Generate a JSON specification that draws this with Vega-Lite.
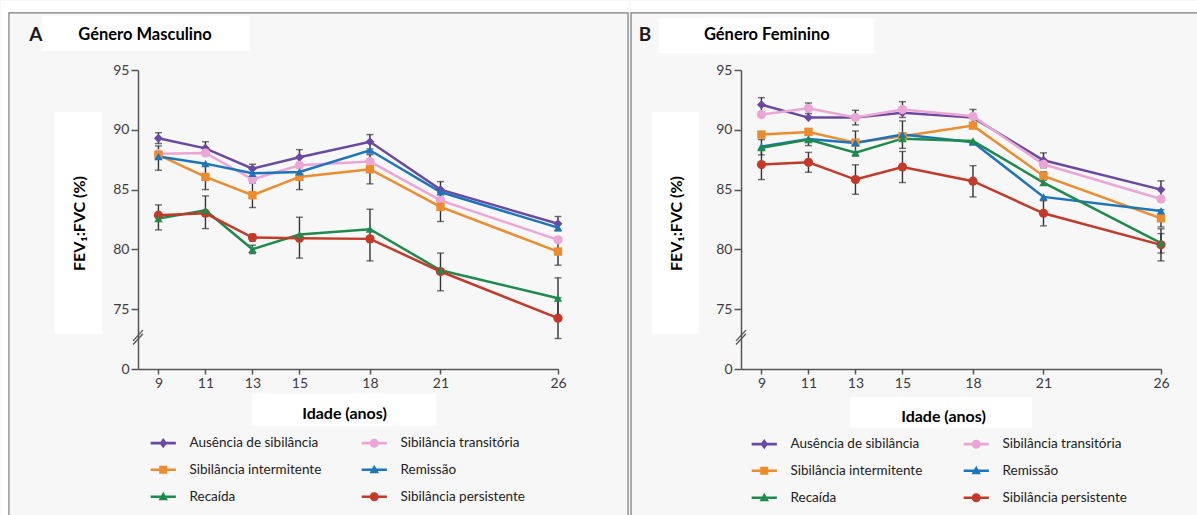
{
"$schema":"https://vega.github.io/schema/vega-lite/v6.json",
"background":"#f7f7f7",
"padding":0,
"spacing":1,
"config":{"view":{"stroke":null},"font":"Lato",
 "axis":{"domainColor":"#555","domainWidth":1.5,"tickColor":"#555","tickWidth":1.5,"labelFont":"Lato","labelFontSize":14,"labelColor":"#3b3a45","titleFont":"Lato","titleFontSize":16,"titleFontWeight":"bold","titleColor":"#000","grid":false,"labelOverlap":false}},
"resolve":{"scale":{"color":"independent","shape":"independent"}},
"datasets":{"d":[
{"p":"A","idade":9,"grupo":"Ausência de sibilância","v":89.3,"lo":88.85,"hi":89.76},
{"p":"A","idade":11,"grupo":"Ausência de sibilância","v":88.45,"lo":87.9,"hi":89.0},
{"p":"A","idade":13,"grupo":"Ausência de sibilância","v":86.75,"lo":86.38,"hi":87.12},
{"p":"A","idade":15,"grupo":"Ausência de sibilância","v":87.7,"lo":87.06,"hi":88.34},
{"p":"A","idade":18,"grupo":"Ausência de sibilância","v":89.0,"lo":88.4,"hi":89.6},
{"p":"A","idade":21,"grupo":"Ausência de sibilância","v":85.0,"lo":84.33,"hi":85.67},
{"p":"A","idade":26,"grupo":"Ausência de sibilância","v":82.15,"lo":81.55,"hi":82.75},
{"p":"A","idade":9,"grupo":"Sibilância transitória","v":88.0},
{"p":"A","idade":11,"grupo":"Sibilância transitória","v":88.06},
{"p":"A","idade":13,"grupo":"Sibilância transitória","v":85.86},
{"p":"A","idade":15,"grupo":"Sibilância transitória","v":87.03},
{"p":"A","idade":18,"grupo":"Sibilância transitória","v":87.34},
{"p":"A","idade":21,"grupo":"Sibilância transitória","v":84.1},
{"p":"A","idade":26,"grupo":"Sibilância transitória","v":80.8},
{"p":"A","idade":9,"grupo":"Sibilância intermitente","v":87.9,"lo":86.62,"hi":88.65},
{"p":"A","idade":11,"grupo":"Sibilância intermitente","v":86.06,"lo":85.0,"hi":87.1},
{"p":"A","idade":13,"grupo":"Sibilância intermitente","v":84.53,"lo":83.5,"hi":85.56},
{"p":"A","idade":15,"grupo":"Sibilância intermitente","v":86.06,"lo":85.0,"hi":87.1},
{"p":"A","idade":18,"grupo":"Sibilância intermitente","v":86.7,"lo":85.48,"hi":87.92},
{"p":"A","idade":21,"grupo":"Sibilância intermitente","v":83.55,"lo":82.33,"hi":84.77},
{"p":"A","idade":26,"grupo":"Sibilância intermitente","v":79.82,"lo":78.68,"hi":80.96},
{"p":"A","idade":9,"grupo":"Remissão","v":87.76},
{"p":"A","idade":11,"grupo":"Remissão","v":87.17},
{"p":"A","idade":13,"grupo":"Remissão","v":86.36},
{"p":"A","idade":15,"grupo":"Remissão","v":86.48},
{"p":"A","idade":18,"grupo":"Remissão","v":88.29},
{"p":"A","idade":21,"grupo":"Remissão","v":84.8},
{"p":"A","idade":26,"grupo":"Remissão","v":81.82},
{"p":"A","idade":9,"grupo":"Recaída","v":82.58},
{"p":"A","idade":11,"grupo":"Recaída","v":83.27},
{"p":"A","idade":13,"grupo":"Recaída","v":80.01,"lo":79.65,"hi":80.35},
{"p":"A","idade":15,"grupo":"Recaída","v":81.24},
{"p":"A","idade":18,"grupo":"Recaída","v":81.69},
{"p":"A","idade":21,"grupo":"Recaída","v":78.26},
{"p":"A","idade":26,"grupo":"Recaída","v":75.92,"lo":74.22,"hi":77.62},
{"p":"A","idade":9,"grupo":"Sibilância persistente","v":82.86,"lo":81.63,"hi":83.72},
{"p":"A","idade":11,"grupo":"Sibilância persistente","v":83.02,"lo":81.74,"hi":84.47},
{"p":"A","idade":13,"grupo":"Sibilância persistente","v":80.99,"lo":80.7,"hi":81.27},
{"p":"A","idade":15,"grupo":"Sibilância persistente","v":80.93,"lo":79.27,"hi":82.69},
{"p":"A","idade":18,"grupo":"Sibilância persistente","v":80.88,"lo":79.04,"hi":83.36},
{"p":"A","idade":21,"grupo":"Sibilância persistente","v":78.15,"lo":76.54,"hi":79.69},
{"p":"A","idade":26,"grupo":"Sibilância persistente","v":74.25,"lo":72.55,"hi":75.95},
{"p":"B","idade":9,"grupo":"Ausência de sibilância","v":92.1,"lo":91.5,"hi":92.69},
{"p":"B","idade":11,"grupo":"Ausência de sibilância","v":91.02},
{"p":"B","idade":13,"grupo":"Ausência de sibilância","v":91.02},
{"p":"B","idade":15,"grupo":"Ausência de sibilância","v":91.43},
{"p":"B","idade":18,"grupo":"Ausência de sibilância","v":91.02},
{"p":"B","idade":21,"grupo":"Ausência de sibilância","v":87.45,"lo":86.83,"hi":88.07},
{"p":"B","idade":26,"grupo":"Ausência de sibilância","v":85.0,"lo":84.27,"hi":85.73},
{"p":"B","idade":9,"grupo":"Sibilância transitória","v":91.27},
{"p":"B","idade":11,"grupo":"Sibilância transitória","v":91.8,"lo":91.36,"hi":92.24},
{"p":"B","idade":13,"grupo":"Sibilância transitória","v":91.02,"lo":90.41,"hi":91.63},
{"p":"B","idade":15,"grupo":"Sibilância transitória","v":91.69,"lo":91.03,"hi":92.35},
{"p":"B","idade":18,"grupo":"Sibilância transitória","v":91.13,"lo":90.56,"hi":91.7},
{"p":"B","idade":21,"grupo":"Sibilância transitória","v":87.12},
{"p":"B","idade":26,"grupo":"Sibilância transitória","v":84.22},
{"p":"B","idade":9,"grupo":"Sibilância intermitente","v":89.6},
{"p":"B","idade":11,"grupo":"Sibilância intermitente","v":89.82,"lo":89.54,"hi":90.1},
{"p":"B","idade":13,"grupo":"Sibilância intermitente","v":88.93,"lo":87.8,"hi":89.9},
{"p":"B","idade":15,"grupo":"Sibilância intermitente","v":89.46},
{"p":"B","idade":18,"grupo":"Sibilância intermitente","v":90.35},
{"p":"B","idade":21,"grupo":"Sibilância intermitente","v":86.14,"lo":85.8,"hi":86.48},
{"p":"B","idade":26,"grupo":"Sibilância intermitente","v":82.6,"lo":81.88,"hi":83.32},
{"p":"B","idade":9,"grupo":"Remissão","v":88.6,"lo":87.9,"hi":89.18},
{"p":"B","idade":11,"grupo":"Remissão","v":89.23,"lo":88.68,"hi":89.78},
{"p":"B","idade":13,"grupo":"Remissão","v":88.9},
{"p":"B","idade":15,"grupo":"Remissão","v":89.6,"lo":88.45,"hi":90.74},
{"p":"B","idade":18,"grupo":"Remissão","v":88.96},
{"p":"B","idade":21,"grupo":"Remissão","v":84.39},
{"p":"B","idade":26,"grupo":"Remissão","v":83.22},
{"p":"B","idade":9,"grupo":"Recaída","v":88.5},
{"p":"B","idade":11,"grupo":"Recaída","v":89.18},
{"p":"B","idade":13,"grupo":"Recaída","v":88.09},
{"p":"B","idade":15,"grupo":"Recaída","v":89.26},
{"p":"B","idade":18,"grupo":"Recaída","v":89.07},
{"p":"B","idade":21,"grupo":"Recaída","v":85.58},
{"p":"B","idade":26,"grupo":"Recaída","v":80.52,"lo":79.7,"hi":81.32},
{"p":"B","idade":9,"grupo":"Sibilância persistente","v":87.09,"lo":85.84,"hi":88.34},
{"p":"B","idade":11,"grupo":"Sibilância persistente","v":87.28,"lo":86.45,"hi":88.11},
{"p":"B","idade":13,"grupo":"Sibilância persistente","v":85.84,"lo":84.61,"hi":87.07},
{"p":"B","idade":15,"grupo":"Sibilância persistente","v":86.89,"lo":85.59,"hi":88.19},
{"p":"B","idade":18,"grupo":"Sibilância persistente","v":85.7,"lo":84.39,"hi":87.0},
{"p":"B","idade":21,"grupo":"Sibilância persistente","v":83.02,"lo":81.97,"hi":84.07},
{"p":"B","idade":26,"grupo":"Sibilância persistente","v":80.38,"lo":79.04,"hi":81.72}
]},
"hconcat":[
{"width":420,"height":299,
 "layer":[
  {"data":{"name":"d"},"transform":[{"filter":"datum.p == 'A'"}],
   "encoding":{
    "x":{"field":"idade","type":"quantitative","scale":{"domain":[8.13,26],"nice":false,"zero":false},
     "axis":{"zindex":1,"values":[9,11,13,15,18,21,26],"tickSize":5,"labelPadding":2,"labelFlush":false,"labelOverlap":false,"labelSeparation":-100,"labelBound":false,"title":"Idade (anos)","titleX":206,"titleY":44,"titleBaseline":"middle"}},
    "y":{"field":"v","type":"quantitative","scale":{"domain":[70,95],"nice":false,"zero":false},
     "axis":{"zindex":1,"values":[70,75,80,85,90,95],"labelExpr":"datum.value == 70 ? '0' : datum.label","tickSize":7,"labelPadding":2,"title":"FEV₁:FVC (%)","titleX":-59,"titleY":153,"titleBaseline":"middle","titleAngle":270}},
    "color":{"field":"grupo","type":"nominal","scale":{"domain":["Ausência de sibilância","Sibilância intermitente","Recaída","Sibilância transitória","Remissão","Sibilância persistente"],"range":["#6a4aa0","#eb8c2e","#1e8a4c","#eba6d6","#1c74bb","#c3392a"]},"legend":null}},
   "layer":[
    {"mark":{"type":"point","filled":true,"opacity":0},
     "encoding":{
      "color":{"field":"grupo","type":"nominal","scale":{"domain":["Ausência de sibilância","Sibilância intermitente","Recaída","Sibilância transitória","Remissão","Sibilância persistente"],"range":["#6a4aa0","#eb8c2e","#1e8a4c","#eba6d6","#1c74bb","#c3392a"]},
       "legend":{"orient":"none","legendX":18.5,"legendY":366,"columns":2,"title":null,"labelFont":"Lato","labelFontSize":13.5,"labelColor":"#222","symbolSize":81,"labelOffset":19.5,"columnPadding":40,"rowPadding":12,"symbolOpacity":1,"symbolStrokeWidth":0}},
      "shape":{"field":"grupo","type":"nominal","scale":{"domain":["Ausência de sibilância","Sibilância intermitente","Recaída","Sibilância transitória","Remissão","Sibilância persistente"],"range":["M-2.8,-0.28H2.8V0.28H-2.8Z M0,-1.15L0.85,0L0,1.15L-0.85,0Z","M-2.8,-0.28H2.8V0.28H-2.8Z M-0.9,-0.9H0.9V0.9H-0.9Z","M-2.8,-0.28H2.8V0.28H-2.8Z M0,-1.1L1.05,0.8H-1.05Z","M-2.8,-0.28H2.8V0.28H-2.8Z M1,0A1,1,0,1,1,-1,0A1,1,0,1,1,1,0Z","M-2.8,-0.28H2.8V0.28H-2.8Z M0,-1.1L1.05,0.8H-1.05Z","M-2.8,-0.28H2.8V0.28H-2.8Z M1,0A1,1,0,1,1,-1,0A1,1,0,1,1,1,0Z"]},
       "legend":{"orient":"none","legendX":18.5,"legendY":366,"columns":2,"title":null,"labelFont":"Lato","labelFontSize":13.5,"labelColor":"#222","symbolSize":81,"labelOffset":19.5,"columnPadding":40,"rowPadding":12,"symbolOpacity":1,"symbolStrokeWidth":0}}}},
    {"mark":{"type":"rule","strokeWidth":1.4},"encoding":{"y":{"field":"lo","type":"quantitative","scale":{"domain":[70,95],"nice":false,"zero":false}},"y2":{"field":"hi"},"color":{"value":"#333"}}},
    {"mark":{"type":"tick","orient":"horizontal","size":7,"thickness":1.4},"encoding":{"y":{"field":"lo","type":"quantitative","scale":{"domain":[70,95],"nice":false,"zero":false}},"color":{"value":"#333"}}},
    {"mark":{"type":"tick","orient":"horizontal","size":7,"thickness":1.4},"encoding":{"y":{"field":"hi","type":"quantitative","scale":{"domain":[70,95],"nice":false,"zero":false}},"color":{"value":"#333"}}},
    {"mark":{"type":"line","strokeWidth":2.5}},
    {"transform":[{"filter":"datum.grupo == 'Ausência de sibilância'"}],"mark":{"type":"point","shape":"diamond","filled":true,"size":80,"opacity":1}},
    {"transform":[{"filter":"datum.grupo == 'Sibilância transitória' || datum.grupo == 'Sibilância persistente'"}],"mark":{"type":"point","shape":"circle","filled":true,"size":85,"opacity":1}},
    {"transform":[{"filter":"datum.grupo == 'Sibilância intermitente'"}],"mark":{"type":"point","shape":"square","filled":true,"size":70,"opacity":1}},
    {"transform":[{"filter":"datum.grupo == 'Remissão' || datum.grupo == 'Recaída'"}],"mark":{"type":"point","shape":"triangle-up","filled":true,"size":70,"opacity":1}}
   ]},
  {"data":{"values":[{}]},"mark":{"type":"rect","fill":"white"},
   "encoding":{"x":{"datum":2.3,"type":"quantitative","scale":{"domain":[8.13,26],"nice":false,"zero":false}},"x2":{"datum":29.0},
    "y":{"datum":100.77,"type":"quantitative","scale":{"domain":[70,95],"nice":false,"zero":false}},"y2":{"datum":99.77}}},
  {"data":{"values":[{}]},"mark":{"type":"rect","fill":"white"},
   "encoding":{"x":{"datum":2.3,"type":"quantitative","scale":{"domain":[8.13,26],"nice":false,"zero":false}},"x2":{"datum":2.64},
    "y":{"datum":100.77,"type":"quantitative","scale":{"domain":[70,95],"nice":false,"zero":false}},"y2":{"datum":57}}},
  {"data":{"values":[{}]},"mark":{"type":"rect","fill":"transparent","stroke":"#7a7a7a","strokeWidth":1.2},
   "encoding":{"x":{"datum":2.64,"type":"quantitative","scale":{"domain":[8.13,26],"nice":false,"zero":false}},"x2":{"datum":28.98},
    "y":{"datum":99.77,"type":"quantitative","scale":{"domain":[70,95],"nice":false,"zero":false}},"y2":{"datum":57}}},
  {"data":{"values":[{}]},"mark":{"type":"rect","fill":"white"},
   "encoding":{"x":{"datum":4.04,"type":"quantitative","scale":{"domain":[8.13,26],"nice":false,"zero":false}},"x2":{"datum":12.9},
    "y":{"datum":99.51,"type":"quantitative","scale":{"domain":[70,95],"nice":false,"zero":false}},"y2":{"datum":96.59}}},
  {"data":{"values":[{}]},"mark":{"type":"rect","fill":"white"},
   "encoding":{"x":{"datum":4.55,"type":"quantitative","scale":{"domain":[8.13,26],"nice":false,"zero":false}},"x2":{"datum":6.6},
    "y":{"datum":91.49,"type":"quantitative","scale":{"domain":[70,95],"nice":false,"zero":false}},"y2":{"datum":72.94}}},
  {"data":{"values":[{}]},"mark":{"type":"rect","fill":"white"},
   "encoding":{"x":{"datum":12.98,"type":"quantitative","scale":{"domain":[8.13,26],"nice":false,"zero":false}},"x2":{"datum":20.82},
    "y":{"datum":67.91,"type":"quantitative","scale":{"domain":[70,95],"nice":false,"zero":false}},"y2":{"datum":65.23}}},
  {"data":{"values":[{}]},"mark":{"type":"text","text":"A","font":"Lato","fontSize":19,"fontWeight":"bold","align":"left","baseline":"middle","color":"#1a1a1a"},
   "encoding":{"x":{"datum":3.5,"type":"quantitative","scale":{"domain":[8.13,26],"nice":false,"zero":false}},
    "y":{"datum":97.95,"type":"quantitative","scale":{"domain":[70,95],"nice":false,"zero":false}}}},
  {"data":{"values":[{}]},"mark":{"type":"text","text":"Género Masculino","font":"Lato","fontSize":16.5,"fontWeight":"bold","align":"center","baseline":"middle","color":"#000"},
   "encoding":{"x":{"datum":8.43,"type":"quantitative","scale":{"domain":[8.13,26],"nice":false,"zero":false}},
    "y":{"datum":97.95,"type":"quantitative","scale":{"domain":[70,95],"nice":false,"zero":false}}}},
  {"data":{"values":[{}]},"mark":{"type":"rule","color":"#555","strokeWidth":1.3},
   "encoding":{"x":{"datum":7.92,"type":"quantitative","scale":{"domain":[8.13,26],"nice":false,"zero":false}},"x2":{"datum":8.34},
    "y":{"datum":72.35,"type":"quantitative","scale":{"domain":[70,95],"nice":false,"zero":false}},"y2":{"datum":73.25}}},
  {"data":{"values":[{}]},"mark":{"type":"rule","color":"#555","strokeWidth":1.3},
   "encoding":{"x":{"datum":7.92,"type":"quantitative","scale":{"domain":[8.13,26],"nice":false,"zero":false}},"x2":{"datum":8.34},
    "y":{"datum":72.05,"type":"quantitative","scale":{"domain":[70,95],"nice":false,"zero":false}},"y2":{"datum":72.95}}}
 ]},
{"width":420,"height":299,
 "layer":[
  {"data":{"name":"d"},"transform":[{"filter":"datum.p == 'B'"}],
   "encoding":{
    "x":{"field":"idade","type":"quantitative","scale":{"domain":[8.13,26],"nice":false,"zero":false},
     "axis":{"zindex":1,"values":[9,11,13,15,18,21,26],"tickSize":5,"labelPadding":2,"labelFlush":false,"labelOverlap":false,"labelSeparation":-100,"labelBound":false,"title":"Idade (anos)","titleX":202,"titleY":47,"titleBaseline":"middle"}},
    "y":{"field":"v","type":"quantitative","scale":{"domain":[70,95],"nice":false,"zero":false},
     "axis":{"zindex":1,"values":[70,75,80,85,90,95],"labelExpr":"datum.value == 70 ? '0' : datum.label","tickSize":7,"labelPadding":2,"title":"FEV₁:FVC (%)","titleX":-65,"titleY":153,"titleBaseline":"middle","titleAngle":270}},
    "color":{"field":"grupo","type":"nominal","scale":{"domain":["Ausência de sibilância","Sibilância intermitente","Recaída","Sibilância transitória","Remissão","Sibilância persistente"],"range":["#6a4aa0","#eb8c2e","#1e8a4c","#eba6d6","#1c74bb","#c3392a"]},"legend":null}},
   "layer":[
    {"mark":{"type":"point","filled":true,"opacity":0},
     "encoding":{
      "color":{"field":"grupo","type":"nominal","scale":{"domain":["Ausência de sibilância","Sibilância intermitente","Recaída","Sibilância transitória","Remissão","Sibilância persistente"],"range":["#6a4aa0","#eb8c2e","#1e8a4c","#eba6d6","#1c74bb","#c3392a"]},
       "legend":{"orient":"none","legendX":16.5,"legendY":367,"columns":2,"title":null,"labelFont":"Lato","labelFontSize":13.5,"labelColor":"#222","symbolSize":81,"labelOffset":19.5,"columnPadding":41,"rowPadding":12,"symbolOpacity":1,"symbolStrokeWidth":0}},
      "shape":{"field":"grupo","type":"nominal","scale":{"domain":["Ausência de sibilância","Sibilância intermitente","Recaída","Sibilância transitória","Remissão","Sibilância persistente"],"range":["M-2.8,-0.28H2.8V0.28H-2.8Z M0,-1.15L0.85,0L0,1.15L-0.85,0Z","M-2.8,-0.28H2.8V0.28H-2.8Z M-0.9,-0.9H0.9V0.9H-0.9Z","M-2.8,-0.28H2.8V0.28H-2.8Z M0,-1.1L1.05,0.8H-1.05Z","M-2.8,-0.28H2.8V0.28H-2.8Z M1,0A1,1,0,1,1,-1,0A1,1,0,1,1,1,0Z","M-2.8,-0.28H2.8V0.28H-2.8Z M0,-1.1L1.05,0.8H-1.05Z","M-2.8,-0.28H2.8V0.28H-2.8Z M1,0A1,1,0,1,1,-1,0A1,1,0,1,1,1,0Z"]},
       "legend":{"orient":"none","legendX":16.5,"legendY":367,"columns":2,"title":null,"labelFont":"Lato","labelFontSize":13.5,"labelColor":"#222","symbolSize":81,"labelOffset":19.5,"columnPadding":41,"rowPadding":12,"symbolOpacity":1,"symbolStrokeWidth":0}}}},
    {"mark":{"type":"rule","strokeWidth":1.4},"encoding":{"y":{"field":"lo","type":"quantitative","scale":{"domain":[70,95],"nice":false,"zero":false}},"y2":{"field":"hi"},"color":{"value":"#333"}}},
    {"mark":{"type":"tick","orient":"horizontal","size":7,"thickness":1.4},"encoding":{"y":{"field":"lo","type":"quantitative","scale":{"domain":[70,95],"nice":false,"zero":false}},"color":{"value":"#333"}}},
    {"mark":{"type":"tick","orient":"horizontal","size":7,"thickness":1.4},"encoding":{"y":{"field":"hi","type":"quantitative","scale":{"domain":[70,95],"nice":false,"zero":false}},"color":{"value":"#333"}}},
    {"mark":{"type":"line","strokeWidth":2.5}},
    {"transform":[{"filter":"datum.grupo == 'Ausência de sibilância'"}],"mark":{"type":"point","shape":"diamond","filled":true,"size":80,"opacity":1}},
    {"transform":[{"filter":"datum.grupo == 'Sibilância transitória' || datum.grupo == 'Sibilância persistente'"}],"mark":{"type":"point","shape":"circle","filled":true,"size":85,"opacity":1}},
    {"transform":[{"filter":"datum.grupo == 'Sibilância intermitente'"}],"mark":{"type":"point","shape":"square","filled":true,"size":70,"opacity":1}},
    {"transform":[{"filter":"datum.grupo == 'Remissão' || datum.grupo == 'Recaída'"}],"mark":{"type":"point","shape":"triangle-up","filled":true,"size":70,"opacity":1}}
   ]},
  {"data":{"values":[{}]},"mark":{"type":"rect","fill":"white"},
   "encoding":{"x":{"datum":3.45,"type":"quantitative","scale":{"domain":[8.13,26],"nice":false,"zero":false}},"x2":{"datum":28.0},
    "y":{"datum":100.77,"type":"quantitative","scale":{"domain":[70,95],"nice":false,"zero":false}},"y2":{"datum":99.77}}},
  {"data":{"values":[{}]},"mark":{"type":"rect","fill":"transparent","stroke":"#7a7a7a","strokeWidth":1.2},
   "encoding":{"x":{"datum":3.45,"type":"quantitative","scale":{"domain":[8.13,26],"nice":false,"zero":false}},"x2":{"datum":28.0},
    "y":{"datum":99.77,"type":"quantitative","scale":{"domain":[70,95],"nice":false,"zero":false}},"y2":{"datum":57}}},
  {"data":{"values":[{}]},"mark":{"type":"rect","fill":"white"},
   "encoding":{"x":{"datum":4.63,"type":"quantitative","scale":{"domain":[8.13,26],"nice":false,"zero":false}},"x2":{"datum":13.8},
    "y":{"datum":99.32,"type":"quantitative","scale":{"domain":[70,95],"nice":false,"zero":false}},"y2":{"datum":96.4}}},
  {"data":{"values":[{}]},"mark":{"type":"rect","fill":"white"},
   "encoding":{"x":{"datum":4.34,"type":"quantitative","scale":{"domain":[8.13,26],"nice":false,"zero":false}},"x2":{"datum":6.33},
    "y":{"datum":91.49,"type":"quantitative","scale":{"domain":[70,95],"nice":false,"zero":false}},"y2":{"datum":72.94}}},
  {"data":{"values":[{}]},"mark":{"type":"rect","fill":"white"},
   "encoding":{"x":{"datum":12.78,"type":"quantitative","scale":{"domain":[8.13,26],"nice":false,"zero":false}},"x2":{"datum":20.52},
    "y":{"datum":67.66,"type":"quantitative","scale":{"domain":[70,95],"nice":false,"zero":false}},"y2":{"datum":65.09}}},
  {"data":{"values":[{}]},"mark":{"type":"text","text":"B","font":"Lato","fontSize":19,"fontWeight":"bold","align":"left","baseline":"middle","color":"#1a1a1a"},
   "encoding":{"x":{"datum":3.78,"type":"quantitative","scale":{"domain":[8.13,26],"nice":false,"zero":false}},
    "y":{"datum":97.95,"type":"quantitative","scale":{"domain":[70,95],"nice":false,"zero":false}}}},
  {"data":{"values":[{}]},"mark":{"type":"text","text":"Género Feminino","font":"Lato","fontSize":16.5,"fontWeight":"bold","align":"center","baseline":"middle","color":"#000"},
   "encoding":{"x":{"datum":9.23,"type":"quantitative","scale":{"domain":[8.13,26],"nice":false,"zero":false}},
    "y":{"datum":97.95,"type":"quantitative","scale":{"domain":[70,95],"nice":false,"zero":false}}}},
  {"data":{"values":[{}]},"mark":{"type":"rule","color":"#555","strokeWidth":1.3},
   "encoding":{"x":{"datum":7.92,"type":"quantitative","scale":{"domain":[8.13,26],"nice":false,"zero":false}},"x2":{"datum":8.34},
    "y":{"datum":72.35,"type":"quantitative","scale":{"domain":[70,95],"nice":false,"zero":false}},"y2":{"datum":73.25}}},
  {"data":{"values":[{}]},"mark":{"type":"rule","color":"#555","strokeWidth":1.3},
   "encoding":{"x":{"datum":7.92,"type":"quantitative","scale":{"domain":[8.13,26],"nice":false,"zero":false}},"x2":{"datum":8.34},
    "y":{"datum":72.05,"type":"quantitative","scale":{"domain":[70,95],"nice":false,"zero":false}},"y2":{"datum":72.95}}}
 ]}
]
}
